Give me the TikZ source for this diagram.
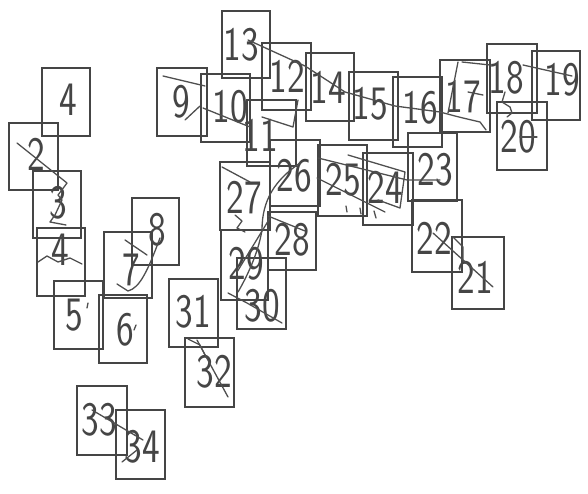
\documentclass[tikz,border=0pt]{standalone}
\usepackage{fontspec}
\newfontfamily\hand[FakeStretch=0.78]{lmsans17-regular.otf}
\usetikzlibrary{fit}
\definecolor{ink}{HTML}{454545}
\definecolor{pen}{HTML}{4F4F4F}
\tikzset{
  box/.style={draw=ink,line width=1.3pt,inner sep=0pt},
  num/.style={inner sep=0pt,text=ink,font=\hand\fontsize{48}{48}\selectfont},
  scrib/.style={draw=pen,line width=1.3pt,line cap=round,line join=round}
}
\newcommand\bx[8]{%
  \node[box,fit={(#2,#3) (#4,#5)}] (b#1) {};
  \node[num] (n#1) at (#7,#8) {#6};}
\begin{document}
\begin{tikzpicture}[x=1pt,y=-1pt]
\useasboundingbox (0,0) rectangle (588,494);
% boxes: id, x1,y1,x2,y2, label, text x, text y
\bx{a4}{42}{68}{90}{136}{4}{68}{100}
\bx{2}{9}{123}{58}{190}{2}{36}{154}
\bx{3}{33}{171}{81}{238}{3}{58}{203}
\bx{4}{37}{228}{85}{296}{4}{60}{250}
\bx{5}{54}{281}{103}{349}{5}{74}{315}
\bx{6}{99}{295}{147}{363}{6}{125}{330}
\bx{7}{104}{232}{152}{298}{7}{131}{270}
\bx{8}{132}{198}{179}{265}{8}{157}{230}
\bx{9}{157}{68}{207}{136}{9}{181}{102}
\bx{10}{201}{74}{250}{142}{10}{230}{107}
\bx{11}{247}{100}{296}{166}{11}{260}{135}
\bx{13}{222}{11}{270}{78}{13}{241}{45}
\bx{12}{262}{43}{311}{110}{12}{287}{76}
\bx{14}{306}{53}{354}{121}{14}{328}{87}
\bx{15}{349}{72}{398}{140}{15}{370}{104}
\bx{16}{393}{77}{442}{147}{16}{420}{108}
\bx{17}{440}{60}{490}{132}{17}{463}{97}
\bx{18}{487}{44}{537}{113}{18}{506}{78}
\bx{19}{532}{51}{580}{120}{19}{562}{80}
\bx{20}{497}{102}{547}{170}{20}{518}{137}
\bx{23}{408}{133}{457}{201}{23}{435}{170}
\bx{22}{412}{200}{462}{272}{22}{434}{238}
\bx{21}{452}{237}{504}{309}{21}{475}{277}
\bx{24}{363}{153}{413}{225}{24}{385}{187}
\bx{25}{318}{145}{367}{216}{25}{343}{180}
\bx{26}{270}{140}{320}{206}{26}{294}{176}
\bx{27}{220}{162}{270}{230}{27}{244}{198}
\bx{28}{268}{212}{316}{270}{28}{292}{240}
\bx{29}{221}{230}{268}{300}{29}{246}{264}
\bx{30}{237}{258}{286}{329}{30}{262}{306}
\bx{31}{169}{279}{218}{347}{31}{193}{312}
\bx{32}{185}{338}{234}{407}{32}{214}{372}
\bx{33}{77}{386}{127}{455}{33}{99}{420}
\bx{34}{116}{410}{165}{479}{34}{142}{447}
% scribbles
\draw[scrib] (17,143) -- (67,183) -- (58,195) -- (62,200) -- (55,215) -- (50,222) -- (66,225);
\draw[scrib] (38,262) -- (47,256) -- (58,262) -- (70,258) -- (82,264);
\draw[scrib] (125,240) -- (147,255);
\draw[scrib] (160,238) .. controls (148,270) and (140,288) .. (128,291) -- (117,284);
\draw[scrib] (163,76) -- (205,86);
\draw[scrib] (185,120) -- (200,106);
\draw[scrib] (203,108) -- (250,127);
\draw[scrib] (262,117) -- (293,127) -- (298,100);
\draw[scrib] (248,40) -- (305,66) -- (345,92) -- (395,106) -- (440,112) -- (455,116) -- (463,118) -- (480,122) -- (486,130);
\draw[scrib] (458,62) -- (448,113);
\draw[scrib] (462,62) -- (490,65);
\draw[scrib] (468,92) -- (483,95);
\draw[scrib] (523,65) -- (572,76);
\draw[scrib] (505,92) -- (502,102) -- (510,107) -- (512,113) -- (507,117);
\draw[scrib] (520,137) -- (537,137);
\draw[scrib] (222,167) -- (250,182);
\draw[scrib] (300,163) .. controls (275,180) and (262,200) .. (262,230) .. controls (258,255) and (245,280) .. (238,292);
\draw[scrib] (235,215) -- (242,221) -- (237,228) -- (245,232);
\draw[scrib] (268,216) -- (305,231);
\draw[scrib] (270,218) -- (237,272);
\draw[scrib] (228,293) -- (247,303) -- (282,323);
\draw[scrib] (318,158) -- (407,180) -- (440,180);
\draw[scrib] (348,155) -- (405,172) -- (400,208) -- (378,200);
\draw[scrib] (317,178) -- (385,212);
\draw[scrib] (346,206) -- (347,212);
\draw[scrib] (360,208) -- (361,214);
\draw[scrib] (374,211) -- (376,218);
\draw[scrib] (433,233) -- (493,287);
\draw[scrib] (453,237) -- (463,247) -- (463,260);
\draw[scrib] (188,339) -- (200,345) -- (205,355);
\draw[scrib] (197,340) -- (228,397);
\draw[scrib] (92,410) -- (143,440);
\draw[scrib] (122,462) -- (137,450);
\draw[scrib] (88,303) -- (87,308);
\draw[scrib] (136,325) -- (134,330);
\end{tikzpicture}
\end{document}
